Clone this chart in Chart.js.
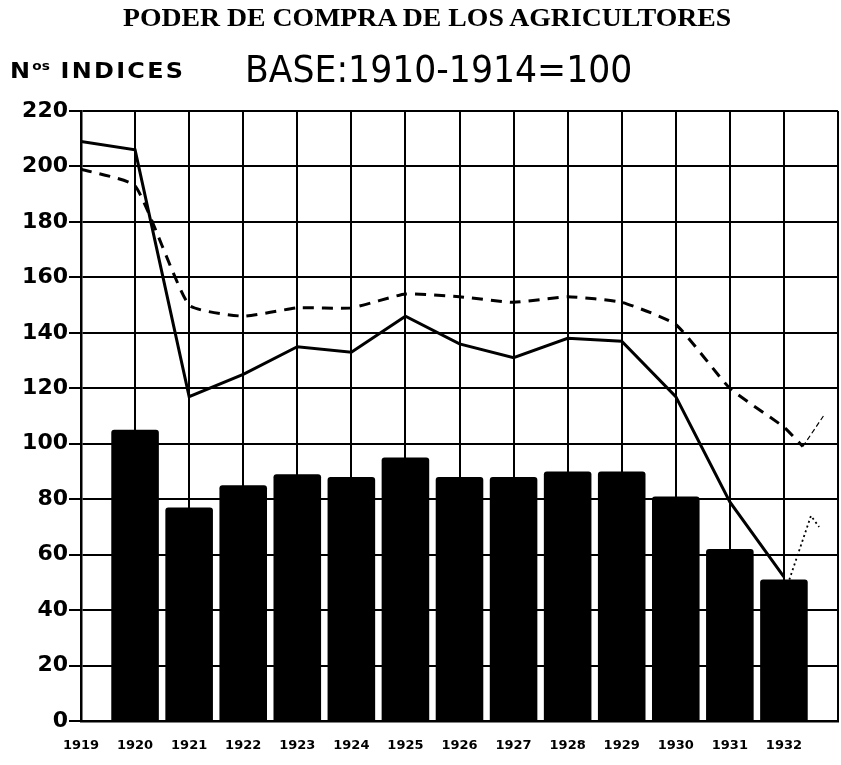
<!DOCTYPE html>
<html>
<head>
<meta charset="utf-8">
<script src="https://cdn.jsdelivr.net/npm/chart.js@4"></script>
<style>
    html, body { margin: 0; padding: 0; background: #fff; }
    #wrap { position: relative; width: 841px; height: 765px; overflow: hidden; }
    #chart { position: absolute; left: 0; top: 0; }
    .txt { position: absolute; color: #000; white-space: nowrap; }
    #title { left: 123px; top: 4px; font: bold 25px "Liberation Serif", serif; transform: scaleX(1.11); transform-origin: left top; }
    #units { left: 10px; top: 59px; font: bold 21px "DejaVu Sans", sans-serif; letter-spacing: 2px; transform: scaleX(1.14); transform-origin: left top; }
    #units sup { font-size: 12px; vertical-align: 8px; letter-spacing: 0; }
    #base { left: 245px; top: 48px; font: 36.5px "DejaVu Sans", sans-serif; transform: scaleX(0.95); transform-origin: left top; }
</style>
</head>
<body>
<div id="wrap">
    <canvas id="chart" width="841" height="765"></canvas>
    <div class="txt" id="title">PODER DE COMPRA DE LOS AGRICULTORES</div>
    <div class="txt" id="units">N<sup>os</sup> INDICES</div>
    <div class="txt" id="base">BASE:1910-1914=100</div>
</div>
<script>
// =========================
// DATA
// =========================
const years = [1919, 1920, 1921, 1922, 1923, 1924, 1925, 1926, 1927, 1928, 1929, 1930, 1931, 1932];
const solidLine = [209, 206, 117, 125, 135, 133, 146, 136, 131, 138, 137, 117, 79, 52];
const dashedLine = [199, 193, 150, 146, 149, 149, 154, 153, 151, 153, 151, 143, 120, 106];

const barYears = [1920, 1921, 1922, 1923, 1924, 1925, 1926, 1927, 1928, 1929, 1930, 1931, 1932];
const barValues = [105, 77, 85, 89, 88, 95, 88, 88, 90, 90, 81, 62, 51];

// pencil marks after 1932
const dashTailX = [1932, 1932.35];
const dashTailY = [106, 99];
const thinTailX = [1932.35, 1932.73];
const thinTailY = [99, 110];
const dottedX = [1932.1, 1932.5, 1932.65];
const dottedY = [51, 74, 70];

const yTicks = [0, 20, 40, 60, 80, 100, 120, 140, 160, 180, 200, 220];

const toXY = (xs, ys) => xs.map((x, i) => ({ x: x, y: ys[i] }));

// =========================
// CHART
// =========================
const font = { family: "'DejaVu Sans', sans-serif", weight: "bold" };

new Chart(document.getElementById("chart"), {
    type: "bar",
    data: {
        datasets: [
            {
                type: "line",
                data: toXY(years, solidLine),
                borderColor: "#000",
                borderWidth: 3,
                pointRadius: 0,
                tension: 0
            },
            {
                type: "line",
                data: toXY(years, dashedLine).concat(toXY(dashTailX.slice(1), dashTailY.slice(1))),
                borderColor: "#000",
                borderWidth: 3,
                borderDash: [11, 8],
                pointRadius: 0,
                tension: 0.15
            },
            {
                type: "line",
                data: toXY(thinTailX, thinTailY),
                borderColor: "#000",
                borderWidth: 1.2,
                borderDash: [5, 3],
                pointRadius: 0
            },
            {
                type: "line",
                data: toXY(dottedX, dottedY),
                borderColor: "#000",
                borderWidth: 1.8,
                borderDash: [2, 3],
                pointRadius: 0
            },
            {
                type: "bar",
                data: toXY(barYears, barValues),
                backgroundColor: "#000",
                borderRadius: 3,
                borderSkipped: "bottom",
                barPercentage: 0.88,
                categoryPercentage: 1
            }
        ]
    },
    options: {
        responsive: false,
        animation: false,
        layout: { padding: { top: 111, right: 3, left: 0, bottom: 0 } },
        plugins: {
            legend: { display: false },
            tooltip: { enabled: false }
        },
        scales: {
            x: {
                type: "linear",
                min: 1919,
                max: 1933,
                offset: false,
                grid: { color: "#000", lineWidth: 2, offset: false, drawTicks: false },
                border: { color: "#000", width: 2.5 },
                ticks: {
                    stepSize: 1,
                    autoSkip: false,
                    maxRotation: 0,
                    padding: 17,
                    color: "#000",
                    font: { ...font, size: 13 },
                    callback: v => (v <= 1932 ? String(v) : "")
                },
                afterFit: s => {
                    s.height = 44;
                    s.paddingLeft = 0;
                    s.paddingRight = 0;
                }
            },
            y: {
                min: 0,
                max: 220,
                afterBuildTicks: s => { s.ticks = yTicks.map(v => ({ value: v })); },
                grid: { color: "#000", lineWidth: 2, tickLength: 12 },
                border: { color: "#000", width: 2.5 },
                ticks: {
                    padding: 1,
                    color: "#000",
                    font: { ...font, size: 22 }
                },
                afterFit: s => {
                    s.width = 81;
                    s.paddingTop = 0;
                    s.paddingBottom = 0;
                }
            }
        }
    }
});
</script>
</body>
</html>
